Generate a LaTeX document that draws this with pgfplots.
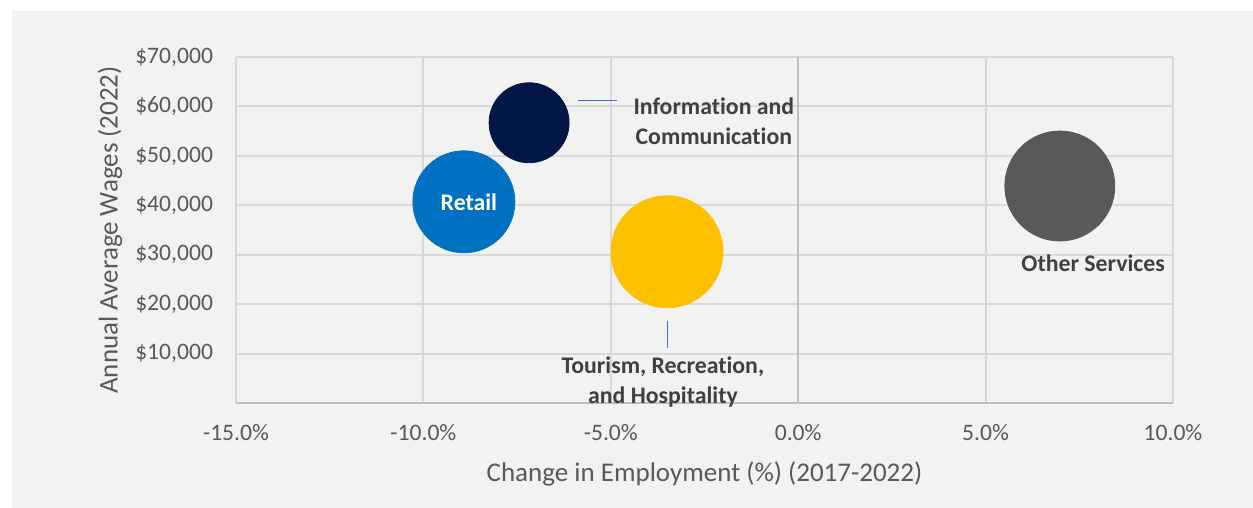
\documentclass[border=0pt]{standalone}
\usepackage{fontspec}
\setmainfont[Ligatures={NoCommon}]{Carlito}
\usepackage{pgfplots}
\pgfplotsset{compat=1.18}
\definecolor{panel}{HTML}{F2F2F2}
\definecolor{gridgray}{HTML}{D9D9D9}
\definecolor{axisgray}{HTML}{BFBFBF}
\definecolor{ticktext}{HTML}{595959}
\definecolor{labtext}{HTML}{404040}
\definecolor{infonavy}{HTML}{021747}
\definecolor{retailblue}{HTML}{0070C0}
\definecolor{tourgold}{HTML}{FFC000}
\definecolor{othergray}{HTML}{595959}
\definecolor{leader}{HTML}{4472C4}

\begin{document}
\begin{tikzpicture}
% page and panel
\fill[white] (0,0) rectangle (626.5pt,254pt);
\fill[panel] (6pt,0) rectangle (626.5pt,248.5pt);
\begin{axis}[
  at={(118pt,52.5pt)}, anchor=south west,
  scale only axis, width=468.5pt, height=173pt,
  xmin=-15, xmax=10, ymin=0, ymax=70000,
  clip=false,
  axis line style={draw=none},
  major tick length=0pt,
  xtick={-15,-10,-5,0,5,10},
  xticklabels={-15.0\%,-10.0\%,-5.0\%,0.0\%,5.0\%,10.0\%},
  ytick={10000,20000,30000,40000,50000,60000,70000},
  yticklabels={{\$10,000},{\$20,000},{\$30,000},{\$40,000},{\$50,000},{\$60,000},{\$70,000}},
  scaled y ticks=false,
  grid=major, grid style={gridgray, line width=1pt},
  tick label style={font=\fontsize{11.8}{14}\selectfont, text=ticktext},
  xticklabel style={yshift=-7pt},
  yticklabel style={xshift=-8pt},
  xlabel={Change in Employment (\%) (2017-2022)},
  ylabel={Annual Average Wages (2022)},
  label style={font=\fontsize{13.5}{16}\selectfont, text=ticktext},
  xlabel style={at={(axis description cs:0.5,-0.205)}, anchor=center},
  ylabel style={at={(axis description cs:-0.1345,0.5)}, anchor=center},
]
% axis lines
\draw[axisgray, line width=1pt] (axis cs:-15,0) -- (axis cs:10,0);
\draw[axisgray, line width=1pt] (axis cs:0,0) -- (axis cs:0,70000);

% bubbles
\addplot[only marks, mark=*, mark size=20pt, color=infonavy] coordinates {(-7.18,56700)};
\addplot[only marks, mark=*, mark size=25.5pt, color=retailblue,
  point meta=explicit symbolic, nodes near coords,
  every node near coord/.style={anchor=center, xshift=2.5pt, text=white,
    font=\fontsize{11.9}{15}\selectfont\bfseries}]
  coordinates {(-8.92,40700) [Retail]};
\addplot[only marks, mark=*, mark size=28pt, color=tourgold] coordinates {(-3.50,30600)};
\addplot[only marks, mark=*, mark size=27.5pt, color=othergray] coordinates {(6.98,43900)};

% leader lines
\draw[leader, line width=0.5pt] (axis cs:-5.88,61100) -- (axis cs:-4.83,61100);
\draw[leader, line width=0.5pt] (axis cs:-3.50,16600) -- (axis cs:-3.50,11100);

% data labels
\begin{scope}[every node/.style={font=\fontsize{11.9}{15}\selectfont\bfseries, text=labtext, align=center}]
\node at (axis cs:-2.25,57100) {Information and\\Communication};
\node at (axis cs:-3.61,4250) {Tourism, Recreation,\\and Hospitality};
\node at (axis cs:7.87,28300) {Other Services};
\end{scope}
\end{axis}
\end{tikzpicture}
\end{document}
